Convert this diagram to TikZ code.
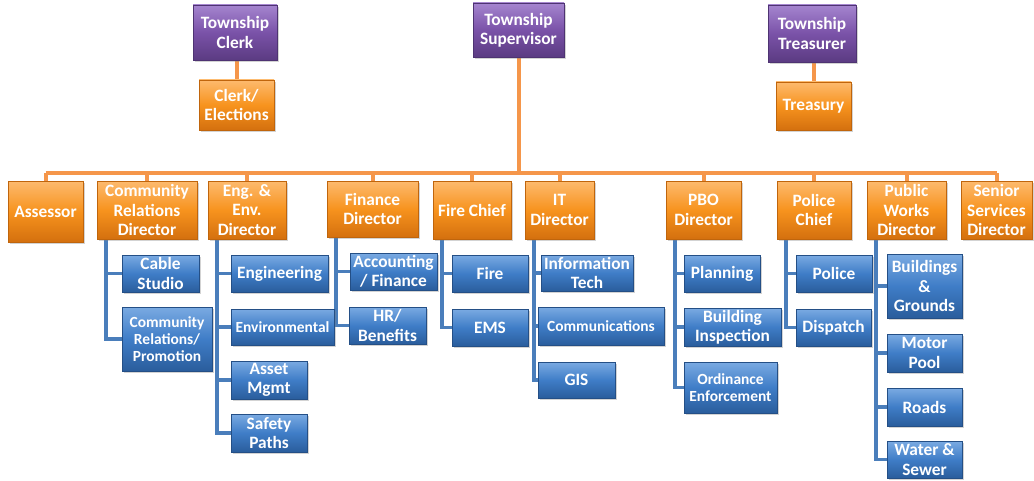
\documentclass[tikz,border=0pt]{standalone}
\usepackage{fontspec}
\setmainfont{Carlito}
\usetikzlibrary{shadows,backgrounds}
\definecolor{purT}{HTML}{A585CF}
\definecolor{purM}{HTML}{7A52A8}
\definecolor{purB}{HTML}{5B3B82}
\definecolor{purD}{HTML}{4E3372}
\definecolor{orT}{HTML}{FDBA6E}
\definecolor{orM}{HTML}{F7931E}
\definecolor{orB}{HTML}{D4700E}
\definecolor{orD}{HTML}{C0650C}
\definecolor{blT}{HTML}{7AAAE2}
\definecolor{blM}{HTML}{3F7DC7}
\definecolor{blB}{HTML}{2A5D9C}
\definecolor{blD}{HTML}{244F86}
\definecolor{orLine}{HTML}{F5964A}
\definecolor{blLine}{HTML}{4A7EBB}
\newcommand{\bx}[7]{\node[#1, minimum width={(#5-#3)*0.75pt}, minimum height={(#6-#4)*0.75pt}] (#2) at ({(#3+#5)/2},{-(#4+#6)/2}) {#7};}
\tikzset{
  box/.style={rectangle, line width=0.6pt, text=white, align=center, inner sep=1pt, outer sep=0pt,
    font=\bfseries\fontsize{13}{14.5}\selectfont,
    drop shadow={shadow xshift=1.2pt, shadow yshift=-1.5pt, opacity=0.35}},
  pbox/.style={box, draw=purD, top color=purT, bottom color=purB, middle color=purM},
  obox/.style={box, draw=orD, top color=orT, bottom color=orB, middle color=orM},
  bbox/.style={box, draw=blD, top color=blT, bottom color=blB, middle color=blM},
  small/.style={font=\bfseries\fontsize{11.6}{12.75}\selectfont},
  oline/.style={draw=orLine, line width=3pt},
  bline/.style={draw=blLine, line width=2.4pt},
}
\begin{document}
\begin{tikzpicture}[x=0.75pt,y=0.75pt]
\useasboundingbox (0,0) rectangle (1034,-481);
% top level
\bx{pbox}{clerk}{193}{5}{277}{60}{Township\\Clerk}
\bx{pbox}{sup}{473}{3}{564}{57}{Township\\Supervisor}
\bx{pbox}{treas}{768}{5}{856}{62}{Township\\Treasurer}
\bx{obox}{elec}{199}{80}{274}{130}{Clerk/\\Elections}
\bx{obox}{tsy}{776}{82}{851}{130}{Treasury}
% directors
\bx{obox}{ass}{8}{181}{83}{242}{Assessor}
\bx{obox}{cr}{97}{181}{197}{239}{Community\\Relations\\Director}
\bx{obox}{eng}{208}{181}{286}{239}{Eng. \&\\Env.\\Director}
\bx{obox}{fin}{327}{181}{418}{237}{Finance\\Director}
\bx{obox}{fire}{433}{181}{511}{239}{Fire Chief}
\bx{obox}{it}{525}{181}{594}{239}{IT\\Director}
\bx{obox}{pbo}{666}{181}{741}{239}{PBO\\Director}
\bx{obox}{pol}{777}{181}{851}{239}{Police\\Chief}
\bx{obox}{pw}{867}{181}{946}{239}{Public\\Works\\Director}
\bx{obox}{sen}{961}{181}{1032}{239}{Senior\\Services\\Director}
% children
\bx{bbox}{cable}{122}{255}{199}{292}{Cable\\Studio}
\bx{bbox,small}{crp}{122}{307}{212}{371}{Community\\Relations/\\Promotion}
\bx{bbox}{engi}{231}{255}{328}{292}{Engineering}
\bx{bbox,small}{env}{231}{309}{334}{345}{Environmental}
\bx{bbox}{asset}{231}{361}{307}{399}{Asset\\Mgmt}
\bx{bbox}{safe}{231}{414}{307}{452}{Safety\\Paths}
\bx{bbox}{acc}{350}{253}{437}{290}{Accounting\\/ Finance}
\bx{bbox}{hr}{349}{307}{426}{344}{HR/\\Benefits}
\bx{bbox}{firec}{452}{255}{528}{292}{Fire}
\bx{bbox}{ems}{452}{309}{528}{346}{EMS}
\bx{bbox}{infot}{541}{255}{633}{291}{Information\\Tech}
\bx{bbox,small}{comm}{538}{307}{664}{345}{Communications}
\bx{bbox}{gis}{538}{362}{615}{398}{GIS}
\bx{bbox}{plan}{684}{255}{760}{292}{Planning}
\bx{bbox}{bins}{684}{308}{781}{346}{Building\\Inspection}
\bx{bbox,small}{ord}{684}{362}{777}{413}{Ordinance\\Enforcement}
\bx{bbox}{police}{796}{255}{872}{292}{Police}
\bx{bbox}{disp}{796}{309}{871}{346}{Dispatch}
\bx{bbox}{bldg}{887}{254}{962}{318}{Buildings\\\&\\Grounds}
\bx{bbox}{motor}{887}{334}{962}{372}{Motor\\Pool}
\bx{bbox}{roads}{887}{388}{962}{426}{Roads}
\bx{bbox}{water}{887}{441}{962}{478}{Water \&\\Sewer}
\coordinate (bus) at (0,-173);
\begin{scope}[on background layer]
\draw[oline] (elec.north) -- (elec.north |- clerk.south);
\draw[oline] (tsy.north) -- (tsy.north |- treas.south);
\draw[oline] (sup.south) -- (sup.south |- bus);
\draw[oline] (ass.north |- bus) -- (sen.north |- bus);
\foreach \d in {ass,cr,eng,fin,fire,it,pbo,pol,pw,sen}
  \draw[oline] (\d.north) -- (\d.north |- bus);
\foreach \d/\c in {cr/cable,cr/crp,eng/engi,eng/env,eng/asset,eng/safe,fin/acc,fin/hr,fire/firec,fire/ems,it/infot,it/comm,it/gis,pbo/plan,pbo/bins,pbo/ord,pol/police,pol/disp,pw/bldg,pw/motor,pw/roads,pw/water}
  \draw[bline] ([xshift=6.75pt]\d.south west) |- (\c.west);
\end{scope}
\end{tikzpicture}
\end{document}
